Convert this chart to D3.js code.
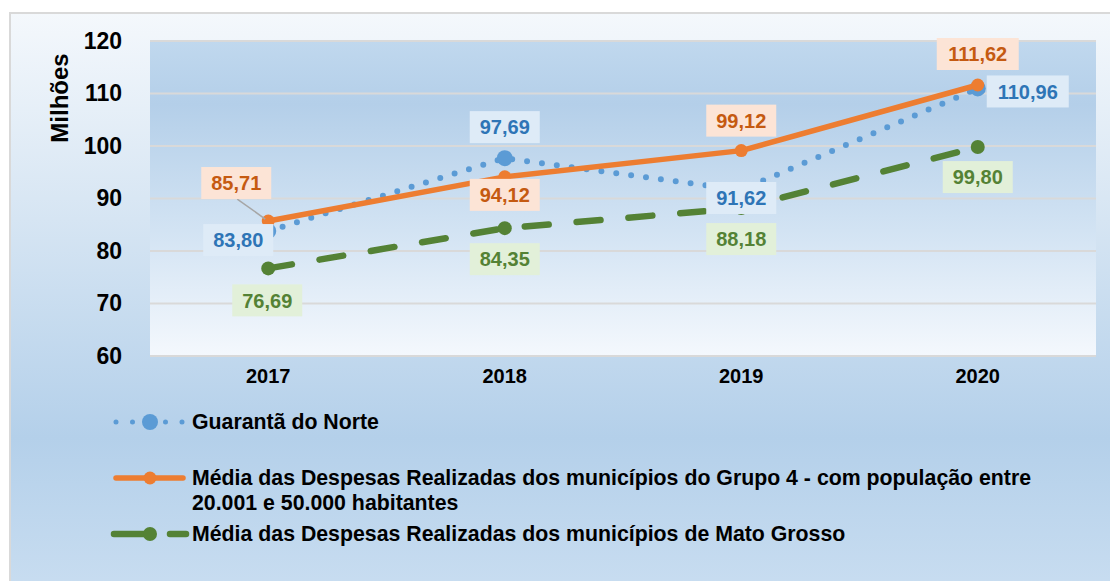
<!DOCTYPE html>
<html>
<head>
<meta charset="UTF-8">
<title>Despesas</title>
<script type="text/javascript" src="https://cdn.jsdelivr.net/npm/d3@7/dist/d3.min.js"></script>
<style type="text/css">
body{margin:0;background:#fff;}
text{font-family:"Liberation Sans",Arial,sans-serif;font-weight:bold;}
</style>
</head>
<body>
<script type="text/javascript">
var width=1110,height=581;

// dados (milhões)
var years=["2017","2018","2019","2020"];
var guaranta=[83.80,97.69,91.62,110.96];
var grupo4=[85.71,94.12,99.12,111.62];
var matoGrosso=[76.69,84.35,88.18,99.80];
var yTicks=[60,70,80,90,100,110,120];
var legendGuaranta=["Guarantã do Norte"];
var legendGrupo4=["Média das Despesas Realizadas dos municípios do Grupo 4 - com população entre","20.001 e 50.000 habitantes"];
var legendMT=["Média das Despesas Realizadas dos municípios de Mato Grosso"];

var series=[
	{values:guaranta,legend:legendGuaranta,color:"#5b9bd5",dash:"0,15",lw:6,r:8,
	 text:"#2e75b6",box:"#deebf7",off:[[-30,9],[0,-31],[0,8],[50,3]]},
	{values:grupo4,legend:legendGrupo4,color:"#ed7d31",dash:null,lw:5.5,r:6.5,
	 text:"#c55a11",box:"#fce4d6",off:[[-32,-38],[0,18],[0,-30],[0,-31]]},
	{values:matoGrosso,legend:legendMT,color:"#548235",dash:"24,28",lw:6.5,r:7,
	 text:"#548235",box:"#e2f0d9",off:[[-1,32],[0,31],[0,31],[0,30]]}
];

var plot={left:150,right:1096,top:41,bottom:356};

var x=d3.scaleBand().domain(years).range([plot.left,plot.right]);
var y=d3.scaleLinear().domain([60,120]).range([plot.bottom,plot.top]);
var cx=function(d){return x(d)+x.bandwidth()/2;};
var fmt=function(v){return d3.format(".2f")(v).replace(".",",");};

var svg=d3.select("body").append("svg").attr("width",width).attr("height",height);
var defs=svg.append("defs");

var g1=defs.append("linearGradient").attr("id","outerBg").attr("x1",0).attr("y1",0).attr("x2",0).attr("y2",1);
[[0,"#f4f8fc"],[0.35,"#d6e5f3"],[0.72,"#b4d0ea"],[1,"#cadef1"]].forEach(function(s){
	g1.append("stop").attr("offset",s[0]).attr("stop-color",s[1]);
});
var g2=defs.append("linearGradient").attr("id","plotBg").attr("x1",0).attr("y1",0).attr("x2",0).attr("y2",1);
[[0,"#c0d8ee"],[0.2,"#b4cfe9"],[0.6,"#d2e3f3"],[1,"#f4f8fd"]].forEach(function(s){
	g2.append("stop").attr("offset",s[0]).attr("stop-color",s[1]);
});

// fundo
svg.append("rect").attr("x",10).attr("y",13).attr("width",1110).attr("height",590)
   .attr("fill","url(#outerBg)").attr("stroke","#d9d9d9").attr("stroke-width",2);
svg.append("rect").attr("x",plot.left).attr("y",plot.top).attr("width",plot.right-plot.left)
   .attr("height",plot.bottom-plot.top).attr("fill","url(#plotBg)");

// grade
svg.append("g").selectAll("line").data(yTicks).enter().append("line")
   .attr("x1",plot.left).attr("x2",plot.right)
   .attr("y1",function(d){return y(d);}).attr("y2",function(d){return y(d);})
   .attr("stroke","#d9d9d9").attr("stroke-width",2);

// eixos
var yAxis=svg.append("g").attr("transform","translate(122,0)")
   .call(d3.axisLeft(y).tickValues(yTicks).tickSize(0).tickPadding(0));
yAxis.select(".domain").remove();
yAxis.selectAll("text").attr("font-size","23px").attr("fill","#000").attr("font-family","Liberation Sans");

var xAxis=svg.append("g").attr("transform","translate(0,"+(plot.bottom+13)+")")
   .call(d3.axisBottom(x).tickSize(0).tickPadding(0));
xAxis.select(".domain").remove();
xAxis.selectAll("text").attr("font-size","20px").attr("fill","#000").attr("font-family","Liberation Sans");

svg.append("text").attr("transform","translate(68,98) rotate(-90)")
   .attr("text-anchor","middle").attr("font-size","24px").attr("fill","#000").text("Milhões");

// linhas e marcadores
var line=d3.line().x(function(d){return cx(d.year);}).y(function(d){return y(d.v);});
series.forEach(function(s){
	var pts=years.map(function(yr,i){return {year:yr,v:s.values[i]};});
	svg.append("path").datum(pts).attr("d",line).attr("fill","none")
	   .attr("stroke",s.color).attr("stroke-width",s.lw)
	   .attr("stroke-linecap","round").attr("stroke-linejoin","round")
	   .attr("stroke-dasharray",s.dash);
	svg.append("g").selectAll("circle").data(pts).enter().append("circle")
	   .attr("cx",function(d){return cx(d.year);}).attr("cy",function(d){return y(d.v);})
	   .attr("r",s.r).attr("fill",s.color);
});

// linha de chamada 85,71
svg.append("line").attr("x1",cx(years[0])-31).attr("y1",y(grupo4[0])-38+16)
   .attr("x2",cx(years[0])-3).attr("y2",y(grupo4[0])-2)
   .attr("stroke","#a6a6a6").attr("stroke-width",1.5);

// rótulos
series.forEach(function(s){
	var lab=svg.append("g").selectAll("g").data(s.values).enter().append("g")
	   .attr("transform",function(d,i){
		   return "translate("+(cx(years[i])+s.off[i][0])+","+(y(d)+s.off[i][1])+")";
	   });
	lab.append("rect").attr("x",function(d){return d>=100?-41:-35;}).attr("y",-16)
	   .attr("width",function(d){return d>=100?82:70;}).attr("height",32).attr("fill",s.box);
	lab.append("text").attr("text-anchor","middle").attr("dy","0.36em")
	   .attr("font-size","20px").attr("fill",s.text).text(fmt);
});

// legenda
var legY=[422,478,534];
var legX=[114,186],legM=150,legT=192;
series.forEach(function(s,i){
	var lg=svg.append("g").attr("transform","translate(0,"+legY[i]+")");
	if(i==2){
		lg.append("path").attr("d",d3.line()([[legX[0],0],[legM,0]]))
		  .attr("stroke",s.color).attr("stroke-width",s.lw).attr("stroke-linecap","round");
		lg.append("path").attr("d",d3.line()([[170,0],[legX[1],0]]))
		  .attr("stroke",s.color).attr("stroke-width",s.lw).attr("stroke-linecap","round");
	}else{
		lg.append("path").attr("d",d3.line()([[legX[0]+2,0],[legX[1]-3,0]]))
		  .attr("stroke",s.color).attr("stroke-width",i==0?5:s.lw).attr("stroke-linecap","round")
		  .attr("stroke-dasharray",i==0?"0,16.5":null);
	}
	lg.append("circle").attr("cx",legM).attr("cy",0).attr("r",s.r).attr("fill",s.color);
	var t=lg.append("text").attr("font-size","21.3px").attr("fill","#000");
	t.selectAll("tspan").data(s.legend).enter().append("tspan")
	 .attr("x",legT).attr("y",function(d,j){return j*25;}).attr("dy","0.35em").text(function(d){return d;});
});
</script>
</body>
</html>
